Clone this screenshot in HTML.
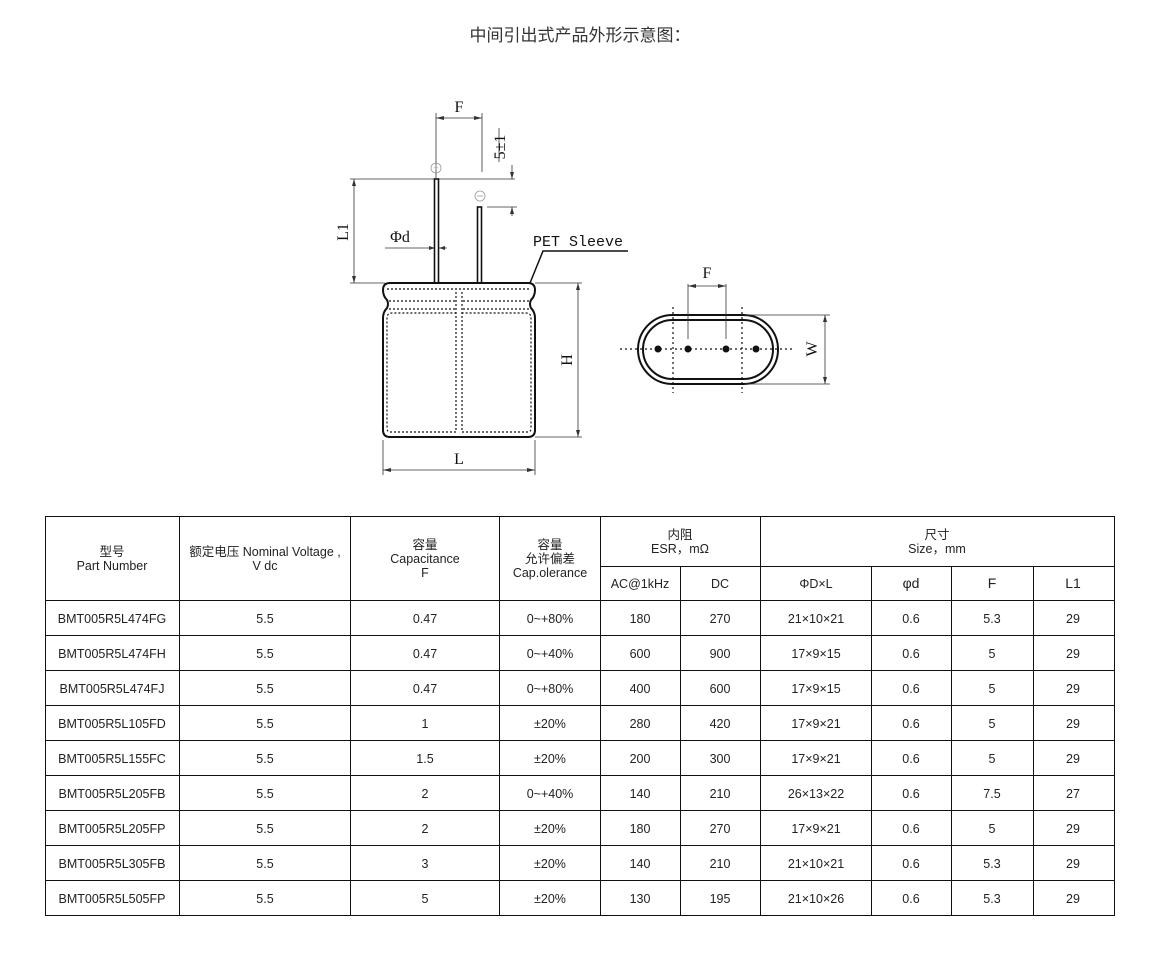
<!DOCTYPE html>
<html><head><meta charset="utf-8"><style>
body{margin:0;background:#fff;width:1162px;height:962px;overflow:hidden}
svg{display:block}
.t{font-family:"Liberation Sans","Noto Sans CJK SC",sans-serif;font-size:12.5px;fill:#222;text-anchor:middle}
.s{font-family:"Liberation Serif",serif;font-size:16px;fill:#111;text-anchor:middle}
.m{font-family:"Liberation Mono",monospace;font-size:15px;fill:#111}
</style></head><body>
<svg width="1162" height="962" viewBox="0 0 1162 962">
<text x="580" y="41" style="font-family:'Liberation Sans','Noto Sans CJK SC',sans-serif;font-size:17px;fill:#333;text-anchor:middle">中间引出式产品外形示意图：</text>
<g stroke="#333" stroke-width="0.8" fill="none">
<line x1="436" y1="113" x2="436" y2="178"/><line x1="482" y1="113" x2="482" y2="172"/>
<line x1="436" y1="118" x2="482" y2="118"/>
<line x1="499" y1="128" x2="499" y2="162"/>
<line x1="350" y1="179" x2="515" y2="179"/>
<line x1="512" y1="165" x2="512" y2="179"/>
<line x1="487" y1="207" x2="517" y2="207"/><line x1="512" y1="207" x2="512" y2="216"/>
<line x1="354" y1="179" x2="354" y2="283"/><line x1="350" y1="283" x2="385" y2="283"/>
<line x1="385" y1="248" x2="447" y2="248"/>
<line x1="535" y1="283" x2="582" y2="283"/><line x1="535" y1="437" x2="582" y2="437"/>
<line x1="578" y1="283" x2="578" y2="437"/>
<line x1="383" y1="440" x2="383" y2="475"/><line x1="535" y1="440" x2="535" y2="475"/>
<line x1="383" y1="470" x2="535" y2="470"/>
</g>
<g fill="#333">
<path d="M436 118l8 -2v4z"/><path d="M482 118l-8 -2v4z"/>
<path d="M512 179l-2 -7h4z"/><path d="M512 207l-2 7h4z"/>
<path d="M354 179l-2 7h4z"/><path d="M354 283l-2 -7h4z"/>
<path d="M578 283l-2 7h4z"/><path d="M578 437l-2 -7h4z"/>
<path d="M383 470l8 -2v4z"/><path d="M535 470l-8 -2v4z"/>
<path d="M435 248l-6 -2v4z"/><path d="M439 248l6 -2v4z"/>
</g>
<text class="s" x="459" y="112">F</text>
<text class="s" transform="translate(505,147) rotate(-90)">5±1</text>
<text class="s" transform="translate(348,232) rotate(-90)">L1</text>
<text class="s" x="400" y="242">Φd</text>
<text class="s" transform="translate(572,360) rotate(-90)">H</text>
<text class="s" x="459" y="464">L</text>
<text class="m" x="533" y="246">PET  Sleeve</text>
<polyline points="628,251 543,251 530,283" stroke="#111" stroke-width="1.5" fill="none"/>
<circle cx="436" cy="168" r="5" fill="none" stroke="#999" stroke-width="0.8"/><text x="436" y="171" style="font-size:9px;fill:#999;text-anchor:middle;font-family:'Liberation Sans'">+</text>
<circle cx="480" cy="196" r="5" fill="none" stroke="#999" stroke-width="0.8"/><line x1="477" y1="196" x2="483" y2="196" stroke="#999" stroke-width="0.8"/>
<rect x="434.5" y="179" width="4" height="104" fill="#fff" stroke="#111" stroke-width="1.6"/>
<rect x="477.5" y="207" width="4" height="76" fill="#fff" stroke="#111" stroke-width="1.6"/>
<path d="M390 283 H528 Q535 283 535 290 Q535 296 531 300 Q529 304 531 308 Q535 312 535 318 V430 Q535 437 528 437 H390 Q383 437 383 430 V318 Q383 312 387 308 Q389 304 387 300 Q383 296 383 290 Q383 283 390 283Z" fill="none" stroke="#111" stroke-width="2"/>
<g stroke="#111" stroke-width="1.2" fill="none" stroke-dasharray="2,2">
<line x1="387" y1="289" x2="531" y2="289"/>
<line x1="389" y1="301" x2="455" y2="301"/><line x1="463" y1="301" x2="529" y2="301"/>
<line x1="389" y1="309" x2="455" y2="309"/><line x1="463" y1="309" x2="529" y2="309"/>
<path d="M456 292 V432 H390 Q387 432 387 428 V318 Q387 313 392 313 H456"/>
<path d="M462 292 V432 H528 Q531 432 531 428 V318 Q531 313 526 313 H462"/>
</g>
<rect x="638" y="315" width="140" height="69" rx="34.5" fill="none" stroke="#111" stroke-width="2"/>
<rect x="643" y="320" width="130" height="59" rx="29.5" fill="none" stroke="#111" stroke-width="2"/>
<g stroke="#111" stroke-width="1.2" stroke-dasharray="2,3">
<line x1="620" y1="349" x2="793" y2="349"/>
<line x1="673" y1="307" x2="673" y2="393"/><line x1="742" y1="307" x2="742" y2="393"/>
</g>
<g fill="#111"><circle cx="658" cy="349" r="3.5"/><circle cx="688" cy="349" r="3.5"/><circle cx="726" cy="349" r="3.5"/><circle cx="756" cy="349" r="3.5"/></g>
<g stroke="#333" stroke-width="0.8" fill="none">
<line x1="688" y1="284" x2="688" y2="339"/><line x1="726" y1="284" x2="726" y2="339"/>
<line x1="688" y1="286" x2="726" y2="286"/>
<line x1="745" y1="315" x2="830" y2="315"/><line x1="745" y1="384" x2="830" y2="384"/>
<line x1="825" y1="315" x2="825" y2="384"/>
</g>
<g fill="#333"><path d="M688 286l8 -2v4z"/><path d="M726 286l-8 -2v4z"/><path d="M825 315l-2 7h4z"/><path d="M825 384l-2 -7h4z"/></g>
<text class="s" x="707" y="278">F</text>
<text class="s" transform="translate(817,349) rotate(-90)">W</text>

<g stroke="#111" stroke-width="1" fill="none">
<rect x="45.5" y="516.5" width="1069" height="399"/>
<line x1="600" y1="566.5" x2="1114" y2="566.5"/>
<line x1="45" y1="600.5" x2="1114" y2="600.5"/>
<line x1="45" y1="635.5" x2="1114" y2="635.5"/><line x1="45" y1="670.5" x2="1114" y2="670.5"/>
<line x1="45" y1="705.5" x2="1114" y2="705.5"/><line x1="45" y1="740.5" x2="1114" y2="740.5"/>
<line x1="45" y1="775.5" x2="1114" y2="775.5"/><line x1="45" y1="810.5" x2="1114" y2="810.5"/>
<line x1="45" y1="845.5" x2="1114" y2="845.5"/><line x1="45" y1="880.5" x2="1114" y2="880.5"/>
<line x1="179.5" y1="516" x2="179.5" y2="916"/><line x1="350.5" y1="516" x2="350.5" y2="916"/>
<line x1="499.5" y1="516" x2="499.5" y2="916"/><line x1="600.5" y1="516" x2="600.5" y2="916"/>
<line x1="680.5" y1="566" x2="680.5" y2="916"/><line x1="760.5" y1="516" x2="760.5" y2="916"/>
<line x1="871.5" y1="566" x2="871.5" y2="916"/><line x1="951.5" y1="566" x2="951.5" y2="916"/>
<line x1="1033.5" y1="566" x2="1033.5" y2="916"/>
</g>
<g class="t">
<text class="t" x="112" y="556">型号</text><text class="t" x="112" y="570">Part Number</text>
<text class="t" x="265" y="556">额定电压 Nominal Voltage ,</text><text class="t" x="265" y="570">V dc</text>
<text class="t" x="425" y="549">容量</text><text class="t" x="425" y="563">Capacitance</text><text class="t" x="425" y="577">F</text>
<text class="t" x="550" y="549">容量</text><text class="t" x="550" y="563">允许偏差</text><text class="t" x="550" y="577">Cap.olerance</text>
<text class="t" x="680" y="539">内阻</text><text class="t" x="680" y="553">ESR，mΩ</text>
<text class="t" x="937" y="539">尺寸</text><text class="t" x="937" y="553">Size，mm</text>
<text class="t" x="640" y="588">AC@1kHz</text><text class="t" x="720" y="588">DC</text>
<text class="t" x="816" y="588">ΦD×L</text><text class="t" x="911" y="588" style="font-size:14px">φd</text>
<text class="t" x="992" y="588" style="font-size:14px">F</text><text class="t" x="1073" y="588" style="font-size:14px">L1</text>
</g>
<g id="rows"></g>
</svg>
<script>
var d=[["BMT005R5L474FG","0.47","0~+80%","180","270","21×10×21","5.3","29"],
["BMT005R5L474FH","0.47","0~+40%","600","900","17×9×15","5","29"],
["BMT005R5L474FJ","0.47","0~+80%","400","600","17×9×15","5","29"],
["BMT005R5L105FD","1","±20%","280","420","17×9×21","5","29"],
["BMT005R5L155FC","1.5","±20%","200","300","17×9×21","5","29"],
["BMT005R5L205FB","2","0~+40%","140","210","26×13×22","7.5","27"],
["BMT005R5L205FP","2","±20%","180","270","17×9×21","5","29"],
["BMT005R5L305FB","3","±20%","140","210","21×10×21","5.3","29"],
["BMT005R5L505FP","5","±20%","130","195","21×10×26","5.3","29"]];
var xs=[112,265,425,550,640,720,816,911,992,1073],h="";
d.forEach(function(r,i){var y=623+35*i;var v=[r[0],"5.5",r[1],r[2],r[3],r[4],r[5],"0.6",r[6],r[7]];
v.forEach(function(t,j){h+='<text class="t" x="'+xs[j]+'" y="'+y+'">'+t+'</text>';});});
document.getElementById("rows").innerHTML=h;
</script>
</body></html>
